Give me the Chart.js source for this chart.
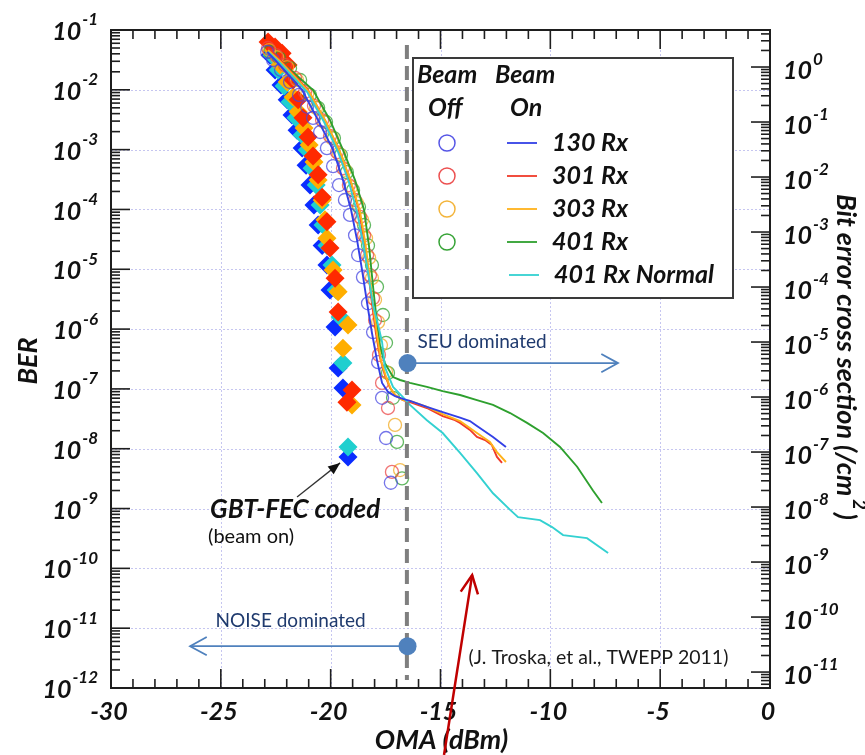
<!DOCTYPE html>
<html>
<head>
<meta charset="utf-8">
<script src="https://cdn.jsdelivr.net/npm/chart.js@4.4.0/dist/chart.umd.min.js"></script>
<style>
  html, body { margin: 0; padding: 0; background: #fff; }
  #wrap { width: 865px; height: 755px; position: relative; }
</style>
</head>
<body>
<div id="wrap"><canvas id="berChart"></canvas></div>
<script>
// Axis ticks
const omaTicks = [-30, -25, -20, -15, -10, -5, 0];
const berExp = [-1, -2, -3, -4, -5, -6, -7, -8, -9, -10, -11, -12];
const sigmaExp = [0, -1, -2, -3, -4, -5, -6, -7, -8, -9, -10, -11];

// Beam on traces (OMA dBm / BER)
const on130X = [-22.89, -22.53, -21.30, -20.57, -19.89, -19.44, -19.07, -18.80, -18.57, -18.34, -18.12, -17.89, -17.66, -17.39, -17.07, -16.71, -16.39, -15.62, -14.90, -14.11, -13.66, -13.34, -12.61, -12.02];
const on130Y = [4.3e-2, 3.15e-2, 9.9e-3, 3.1e-3, 9.9e-4, 3.1e-4, 9.8e-5, 3.1e-5, 9.7e-6, 2.7e-6, 8.6e-7, 3.0e-7, 1.26e-7, 8.9e-8, 7.6e-8, 6.8e-8, 6.3e-8, 5.0e-8, 4.1e-8, 3.3e-8, 2.9e-8, 2.4e-8, 1.57e-8, 1.07e-8];
const on301X = [-22.85, -22.30, -21.03, -20.26, -19.62, -19.12, -18.71, -18.48, -18.30, -18.12, -17.94, -17.75, -17.53, -17.30, -17.07, -16.71, -16.39, -15.62, -14.90, -14.34, -14.11, -13.66, -13.34, -12.97, -12.66, -12.43, -12.20];
const on301Y = [5.0e-2, 3.15e-2, 9.9e-3, 3.1e-3, 9.9e-4, 3.1e-4, 9.8e-5, 3.1e-5, 9.7e-6, 2.7e-6, 8.6e-7, 3.3e-7, 1.7e-7, 1.04e-7, 7.9e-8, 6.5e-8, 6.0e-8, 4.8e-8, 3.5e-8, 3.0e-8, 2.7e-8, 2.06e-8, 1.57e-8, 1.4e-8, 1.15e-8, 7.3e-9, 5.8e-9];
const on303X = [-22.85, -22.26, -20.98, -20.21, -19.57, -19.07, -18.66, -18.43, -18.25, -18.07, -17.89, -17.71, -17.48, -17.26, -17.02, -16.71, -16.39, -15.62, -14.90, -14.11, -13.34, -12.75, -12.43, -12.02];
const on303Y = [4.6e-2, 2.9e-2, 9.2e-3, 2.9e-3, 9.1e-4, 2.88e-4, 9.1e-5, 2.86e-5, 9.0e-6, 2.5e-6, 8.0e-7, 3.0e-7, 1.58e-7, 1.0e-7, 7.6e-8, 6.5e-8, 6.3e-8, 5.0e-8, 3.8e-8, 2.9e-8, 1.83e-8, 1.3e-8, 8.8e-9, 6.0e-9];
const on401X = [-22.80, -22.08, -20.80, -20.03, -19.44, -18.89, -18.48, -18.25, -18.07, -17.89, -17.75, -17.53, -17.16, -16.84, -16.39, -15.62, -14.90, -14.11, -13.34, -12.61, -11.83, -11.06, -10.33, -9.56, -8.78, -8.06, -7.65];
const on401Y = [4.6e-2, 2.6e-2, 9.9e-3, 3.1e-3, 9.9e-4, 3.1e-4, 9.8e-5, 2.36e-5, 5.1e-6, 1.26e-6, 5.0e-7, 2.7e-7, 1.58e-7, 1.41e-7, 1.26e-7, 1.08e-7, 9.2e-8, 7.9e-8, 6.5e-8, 5.4e-8, 3.95e-8, 2.7e-8, 1.83e-8, 1.07e-8, 5.0e-9, 2.0e-9, 1.24e-9];
const normX = [-22.85, -22.30, -21.07, -20.30, -19.66, -19.17, -18.80, -18.53, -18.30, -18.07, -17.84, -17.66, -17.53, -17.16, -16.71, -16.39, -15.62, -14.90, -14.11, -13.34, -12.61, -11.83, -11.47, -10.47, -9.92, -9.42, -8.33, -7.37];
const normY = [4.3e-2, 2.8e-2, 9.2e-3, 2.9e-3, 9.1e-4, 2.88e-4, 9.1e-5, 2.86e-5, 9.0e-6, 2.5e-6, 1.17e-6, 6.1e-7, 2.3e-7, 1.08e-7, 7.3e-8, 5.4e-8, 3.0e-8, 1.83e-8, 8.5e-9, 3.9e-9, 1.8e-9, 9.5e-10, 7.2e-10, 6.4e-10, 4.9e-10, 3.6e-10, 3.2e-10, 1.8e-10];

// Beam off measurements (open circles)
const off130X = [-22.89, -22.62, -22.26, -21.85, -21.44, -21.07, -20.80, -20.48, -20.17, -19.89, -19.62, -19.35, -19.12, -18.89, -18.75, -18.53, -18.30, -18.07, -17.84, -17.66, -17.48, -17.26];
const off130Y = [4.3e-2, 3.15e-2, 2.15e-2, 1.35e-2, 8.2e-3, 5.2e-3, 3.4e-3, 1.97e-3, 1.06e-3, 5.3e-4, 2.56e-4, 1.44e-4, 8.1e-5, 3.7e-5, 1.73e-5, 7.4e-6, 2.7e-6, 8.9e-7, 2.8e-7, 7.1e-8, 1.51e-8, 2.7e-9];
const off301X = [-22.85, -22.49, -22.08, -21.62, -21.17, -20.76, -20.39, -20.03, -19.71, -19.44, -19.17, -18.89, -18.66, -18.48, -18.34, -18.21, -18.07, -17.98, -17.80, -17.66, -17.39, -17.21];
const off301Y = [5.0e-2, 3.8e-2, 2.6e-2, 1.58e-2, 9.2e-3, 5.4e-3, 3.1e-3, 1.69e-3, 9.1e-4, 4.9e-4, 2.56e-4, 1.44e-4, 7.5e-5, 3.7e-5, 1.73e-5, 8.0e-6, 3.3e-6, 1.42e-6, 3.7e-7, 1.26e-7, 4.8e-8, 4.1e-9];
const off303X = [-22.80, -22.44, -21.98, -21.53, -21.07, -20.66, -20.30, -19.94, -19.62, -19.35, -19.07, -18.80, -18.57, -18.39, -18.25, -18.12, -17.98, -17.84, -17.71, -17.48, -17.07, -16.84];
const off303Y = [4.6e-2, 3.5e-2, 2.4e-2, 1.46e-2, 8.5e-3, 5.0e-3, 2.9e-3, 1.56e-3, 8.5e-4, 4.6e-4, 2.37e-4, 1.28e-4, 6.7e-5, 3.3e-5, 1.55e-5, 7.1e-6, 3.1e-6, 1.31e-6, 5.4e-7, 1.92e-7, 2.5e-8, 4.4e-9];
const off401X = [-22.76, -22.35, -21.85, -21.39, -20.94, -20.57, -20.21, -19.85, -19.53, -19.26, -18.98, -18.71, -18.48, -18.30, -18.12, -17.89, -17.62, -17.48, -17.39, -17.16, -16.98, -16.75];
const off401Y = [4.3e-2, 3.4e-2, 2.3e-2, 1.46e-2, 8.2e-3, 5.0e-3, 2.9e-3, 1.56e-3, 8.1e-4, 4.2e-4, 2.1e-4, 1.1e-4, 5.5e-5, 2.5e-5, 1.18e-5, 5.1e-6, 1.72e-6, 5.9e-7, 1.85e-7, 7.1e-8, 1.3e-8, 3.2e-9];

// GBT-FEC coded, beam on (filled diamonds)
const fecBlueX = [-22.76, -22.53, -22.26, -21.98, -21.76, -21.53, -21.30, -21.12, -20.94, -20.76, -20.57, -20.39, -20.17, -20.03, -19.80, -19.66, -19.44, -19.21];
const fecBlueY = [3.8e-2, 2.15e-2, 1.2e-2, 6.8e-3, 3.8e-3, 2.1e-3, 1.06e-3, 5.5e-4, 2.56e-4, 1.19e-4, 5.5e-5, 2.5e-5, 1.18e-5, 4.5e-6, 1.08e-6, 2.24e-7, 1.04e-7, 7.3e-9];
const fecCyanX = [-22.67, -22.39, -22.12, -21.85, -21.58, -21.30, -21.07, -20.85, -20.66, -20.48, -20.35, -20.17, -19.94, -19.75, -19.57, -19.44, -19.21];
const fecCyanY = [3.8e-2, 2.15e-2, 1.16e-2, 6.25e-3, 3.4e-3, 1.76e-3, 9.9e-4, 4.9e-4, 2.56e-4, 1.19e-4, 5.5e-5, 2.5e-5, 1.18e-5, 4.5e-6, 1.59e-6, 2.7e-7, 1.07e-8];
const fecOrangeX = [-22.62, -22.30, -21.98, -21.71, -21.48, -21.21, -20.98, -20.76, -20.57, -20.39, -20.26, -20.17, -19.89, -19.66, -19.21, -19.44, -19.03];
const fecOrangeY = [4.6e-2, 2.6e-2, 1.35e-2, 7.6e-3, 4.3e-3, 2.3e-3, 1.2e-3, 6.2e-4, 3.1e-4, 1.44e-4, 6.7e-5, 3.3e-5, 9.7e-6, 4.2e-6, 1.17e-6, 4.8e-7, 5.4e-8];
const fecRedX = [-22.85, -22.53, -22.21, -21.94, -21.71, -21.48, -21.26, -21.03, -20.80, -20.57, -20.39, -20.17, -20.03, -19.80, -19.66, -19.03, -19.26];
const fecRedY = [6.3e-2, 5.2e-2, 4.1e-2, 2.6e-2, 1.46e-2, 6.8e-3, 3.4e-3, 1.63e-3, 7.8e-4, 3.8e-4, 1.6e-4, 6.2e-5, 2.27e-5, 7.1e-6, 1.93e-6, 9.6e-8, 6.0e-8];

// Threshold marker and annotation anchors (OMA dBm, BER)
const thresholdX = [-16.53, -16.53];
const thresholdY = [5.6e-2, 1.36e-12];
const seuAnchor = [-16.5, 2.7e-7, -6.92];
const noiseAnchor = [-16.5, 5.0e-12, -26.4];
const fecArrow = [-21.53, 1.56e-9, -19.57, 5.8e-9];
const redArrow = [-14.84, 7.6e-14, -13.56, 7.7e-11];

const legendRows = [
  { name: '130 Rx', ring: '#5656e6', line: '#3340e6' },
  { name: '301 Rx', ring: '#ec5050', line: '#f03a2a' },
  { name: '303 Rx', ring: '#f3b43a', line: '#ffb21a' },
  { name: '401 Rx', ring: '#36a336', line: '#2ea02e' },
  { name: '401 Rx Normal', ring: null, line: '#33d1d1' }
];

const BOLD = 'italic bold {s}px Lato, "Open Sans", sans-serif';
const PLAIN = '{s}px Lato, "Open Sans", sans-serif';
const f = (tpl, s) => tpl.replace('{s}', s);

function pts(xs, ys) {
  return xs.map((v, i) => ({ x: v, y: ys[i] }));
}
function traceSet(label, xs, ys, color, order) {
  return { label, data: pts(xs, ys), showLine: true, borderColor: color, borderWidth: 1.9,
    pointRadius: 0, tension: 0, order };
}
function ringSet(label, xs, ys, color, order) {
  return { label, data: pts(xs, ys), showLine: false, pointStyle: 'circle', pointRadius: 6.5,
    borderColor: color, backgroundColor: 'rgba(0,0,0,0)', pointBorderWidth: 1.3, order };
}
function diamondSet(label, xs, ys, color, order) {
  return { label, data: pts(xs, ys), showLine: false, pointStyle: 'rectRot', pointRadius: 9.5,
    backgroundColor: color, borderColor: color, pointBorderWidth: 0, order };
}

function drawPow(ctx, exp, x, y, align) {
  const base = '10', sup = String(exp);
  ctx.font = f(BOLD, 25);
  const wb = ctx.measureText(base).width;
  ctx.font = f(BOLD, 17);
  const ws = ctx.measureText(sup).width;
  const x0 = align === 'right' ? x - wb - ws - 1 : x;
  ctx.textAlign = 'left';
  ctx.textBaseline = 'middle';
  ctx.font = f(BOLD, 25);
  ctx.fillText(base, x0, y);
  ctx.font = f(BOLD, 17);
  ctx.fillText(sup, x0 + wb + 1, y - 12);
}

function arrowHead(ctx, x0, y0, x1, y1, len, spread, filled) {
  const ang = Math.atan2(y1 - y0, x1 - x0);
  const a1 = ang + Math.PI - spread, a2 = ang + Math.PI + spread;
  ctx.beginPath();
  ctx.moveTo(x1 + Math.cos(a1) * len, y1 + Math.sin(a1) * len);
  ctx.lineTo(x1, y1);
  ctx.lineTo(x1 + Math.cos(a2) * len, y1 + Math.sin(a2) * len);
  if (filled) { ctx.closePath(); ctx.fill(); } else { ctx.stroke(); }
}

// frame, ticks, labels, notes and legend
const berAxes = {
  id: 'berAxes',
  beforeDatasetsDraw(chart) {
    const { ctx, chartArea: a, scales: { x, y } } = chart;
    ctx.save();
    ctx.strokeStyle = '#c6c6f0';
    ctx.lineWidth = 1;
    ctx.setLineDash([2, 2]);
    omaTicks.slice(1, -1).forEach(v => {
      const px = Math.round(x.getPixelForValue(v)) + 0.5;
      ctx.beginPath(); ctx.moveTo(px, a.top); ctx.lineTo(px, a.bottom); ctx.stroke();
    });
    berExp.slice(1, -1).forEach(e => {
      const py = Math.round(y.getPixelForValue(Number('1e' + e))) + 0.5;
      ctx.beginPath(); ctx.moveTo(a.left, py); ctx.lineTo(a.right, py); ctx.stroke();
    });
    ctx.restore();
  },
  afterDatasetsDraw(chart) {
    const { ctx, chartArea: a, scales: { x, y, y2 } } = chart;
    ctx.save();
    ctx.strokeStyle = '#1e1e1e';
    ctx.fillStyle = '#111';
    ctx.lineWidth = 2;
    ctx.strokeRect(a.left, a.top, a.right - a.left, a.bottom - a.top);

    // OMA ticks, top and bottom
    ctx.lineWidth = 1.6;
    for (let v = -29; v <= -1; v++) {
      const px = x.getPixelForValue(v);
      const len = v % 5 === 0 ? 19 : 9;
      ctx.beginPath();
      ctx.moveTo(px, a.bottom); ctx.lineTo(px, a.bottom - len);
      ctx.moveTo(px, a.top); ctx.lineTo(px, a.top + len);
      ctx.stroke();
    }
    // log ticks, left and right
    const logTicks = (scale, side) => {
      for (let e = -13; e <= 1; e++) {
        for (let m = 1; m <= 9; m++) {
          const v = m * Number('1e' + e);
          if (v < scale.min || v > scale.max) continue;
          const py = scale.getPixelForValue(v);
          const len = m === 1 ? 19 : 9;
          const x0 = side === 'left' ? a.left : a.right;
          const dir = side === 'left' ? 1 : -1;
          ctx.beginPath(); ctx.moveTo(x0, py); ctx.lineTo(x0 + dir * len, py); ctx.stroke();
        }
      }
    };
    logTicks(y, 'left');
    logTicks(y2, 'right');

    // tick labels
    berExp.forEach(e => drawPow(ctx, e, a.left - 13, y.getPixelForValue(Number('1e' + e)) + 2, 'right'));
    sigmaExp.forEach(e => drawPow(ctx, e, a.right + 13, y2.getPixelForValue(Number('1e' + e)) + 4, 'left'));
    ctx.font = f(BOLD, 25);
    ctx.textAlign = 'center';
    ctx.textBaseline = 'middle';
    omaTicks.forEach(v => ctx.fillText(String(v), x.getPixelForValue(v) - 2, a.bottom + 24));

    // axis titles
    ctx.font = f(BOLD, 27);
    ctx.fillText('OMA (dBm)', (a.left + a.right) / 2 + 1, a.bottom + 52);
    ctx.save();
    ctx.translate(28, (a.top + a.bottom) / 2 + 2);
    ctx.rotate(-Math.PI / 2);
    ctx.fillText('BER', 0, 0);
    ctx.restore();
    ctx.save();
    ctx.translate(846, (a.top + a.bottom) / 2 - 2);
    ctx.rotate(Math.PI / 2);
    const t1 = 'Bit error cross section (/cm';
    const w1 = ctx.measureText(t1).width;
    const w3 = ctx.measureText(')').width;
    ctx.font = f(BOLD, 18);
    const w2 = ctx.measureText('2').width + 6;
    const start = -(w1 + w2 + w3) / 2;
    ctx.textAlign = 'left';
    ctx.font = f(BOLD, 27);
    ctx.fillText(t1, start, 0);
    ctx.fillText(')', start + w1 + w2, 0);
    ctx.font = f(BOLD, 18);
    ctx.fillText('2', start + w1 + 3, -13);
    ctx.restore();

    // SEU / NOISE regions
    const blue = '#4f81bd';
    const drawRegion = (anchor, text, tx, ty) => {
      const px = x.getPixelForValue(anchor[0]);
      const py = y.getPixelForValue(anchor[1]);
      const ex = x.getPixelForValue(anchor[2]);
      ctx.strokeStyle = blue;
      ctx.fillStyle = blue;
      ctx.lineWidth = 1.8;
      ctx.beginPath(); ctx.moveTo(px, py); ctx.lineTo(ex, py); ctx.stroke();
      arrowHead(ctx, px, py, ex, py, 19, 0.5, false);
      ctx.beginPath(); ctx.arc(px, py, 9, 0, Math.PI * 2); ctx.fill();
      ctx.fillStyle = '#1f3a6e';
      ctx.font = f(PLAIN, 19);
      ctx.textAlign = 'left';
      ctx.textBaseline = 'alphabetic';
      ctx.fillText(text, px + tx, py + ty);
    };
    drawRegion(seuAnchor, 'SEU dominated', 10, -15);
    drawRegion(noiseAnchor, 'NOISE dominated', -192, -19);

    const nx = x.getPixelForValue(noiseAnchor[0]);
    const ny = y.getPixelForValue(noiseAnchor[1]);
    ctx.fillStyle = '#1a1a1a';
    ctx.font = f(PLAIN, 19.5);
    ctx.fillText('(J. Troska, et al., TWEPP 2011)', nx + 61, ny + 18);

    // FEC label and pointer
    const ax0 = x.getPixelForValue(fecArrow[0]), ay0 = y.getPixelForValue(fecArrow[1]);
    const ax1 = x.getPixelForValue(fecArrow[2]), ay1 = y.getPixelForValue(fecArrow[3]);
    ctx.strokeStyle = '#333';
    ctx.fillStyle = '#111';
    ctx.lineWidth = 1.3;
    ctx.beginPath(); ctx.moveTo(ax0, ay0); ctx.lineTo(ax1, ay1); ctx.stroke();
    arrowHead(ctx, ax0, ay0, ax1, ay1, 13, 0.38, true);
    ctx.font = f(BOLD, 26);
    ctx.fillText('GBT-FEC coded', ax0 - 87, ay0 + 21);
    ctx.font = f(PLAIN, 20);
    ctx.fillText('(beam on)', ax0 - 89, ay0 + 46);

    // red pointer from below the axis
    const rx0 = x.getPixelForValue(redArrow[0]), ry0 = y.getPixelForValue(redArrow[1]);
    const rx1 = x.getPixelForValue(redArrow[2]), ry1 = y.getPixelForValue(redArrow[3]);
    ctx.strokeStyle = '#c00000';
    ctx.lineWidth = 2.5;
    ctx.beginPath(); ctx.moveTo(rx0, ry0); ctx.lineTo(rx1, ry1); ctx.stroke();
    arrowHead(ctx, rx0, ry0, rx1, ry1, 20, 0.45, false);

    // legend box
    const lx = a.left + 302, ly = a.top + 28;
    ctx.fillStyle = '#fff';
    ctx.fillRect(lx, ly, 320, 240);
    ctx.strokeStyle = '#3a3a3a';
    ctx.lineWidth = 2;
    ctx.strokeRect(lx, ly, 320, 240);
    ctx.fillStyle = '#111';
    ctx.font = f(BOLD, 25);
    ctx.textAlign = 'left';
    ctx.textBaseline = 'alphabetic';
    ctx.fillText('Beam', lx + 4, ly + 25);
    ctx.fillText('Beam', lx + 82, ly + 25);
    ctx.fillText('Off', lx + 15, ly + 58);
    ctx.fillText('On', lx + 97, ly + 58);
    legendRows.forEach((r, i) => {
      const cy = ly + 85 + i * 33;
      if (r.ring) {
        ctx.strokeStyle = r.ring;
        ctx.lineWidth = 1.5;
        ctx.beginPath(); ctx.arc(lx + 34, cy, 8, 0, Math.PI * 2); ctx.stroke();
      }
      ctx.strokeStyle = r.line;
      ctx.lineWidth = 1.8;
      const off = i === 4 ? 2 : 0;
      ctx.beginPath(); ctx.moveTo(lx + 94 + off, cy); ctx.lineTo(lx + 124 + off, cy); ctx.stroke();
      ctx.fillStyle = '#111';
      ctx.font = f(BOLD, 25);
      ctx.fillText(r.name, lx + 139 + off, cy + 8);
    });
    ctx.restore();
  }
};

new Chart(document.getElementById('berChart'), {
  type: 'scatter',
  data: {
    datasets: [
      { label: 'threshold', data: pts(thresholdX, thresholdY), showLine: true, borderColor: '#7f7f7f',
        borderWidth: 4, borderDash: [14, 7], pointRadius: 0, order: 0 },
      traceSet('130 Rx', on130X, on130Y, '#3340e6', 1),
      traceSet('401 Rx Normal', normX, normY, '#33d1d1', 2),
      traceSet('303 Rx', on303X, on303Y, '#ffb21a', 3),
      traceSet('301 Rx', on301X, on301Y, '#f03a2a', 4),
      traceSet('401 Rx', on401X, on401Y, '#2ea02e', 5),
      ringSet('130 Rx off', off130X, off130Y, 'rgba(70,70,225,0.75)', 10),
      ringSet('301 Rx off', off301X, off301Y, 'rgba(235,70,70,0.75)', 11),
      ringSet('303 Rx off', off303X, off303Y, 'rgba(243,175,45,0.8)', 12),
      ringSet('401 Rx off', off401X, off401Y, 'rgba(45,160,45,0.75)', 13),
      diamondSet('FEC 301', fecRedX, fecRedY, '#ff2a00', 20),
      diamondSet('FEC 303', fecOrangeX, fecOrangeY, '#ffae00', 21),
      diamondSet('FEC 401', fecCyanX, fecCyanY, '#1fcfcf', 22),
      diamondSet('FEC 130', fecBlueX, fecBlueY, '#0a2cff', 23)
    ]
  },
  options: {
    responsive: true,
    maintainAspectRatio: false,
    animation: false,
    events: [],
    layout: { padding: { left: 111, right: 95, top: 30, bottom: 67 } },
    plugins: { legend: { display: false }, tooltip: { enabled: false } },
    scales: {
      x: { type: 'linear', min: -30, max: 0, display: false },
      y: { type: 'logarithmic', min: 1e-12, max: 1e-1, display: false },
      y2: { type: 'logarithmic', min: 5.13e-12, max: 4.71, display: false, position: 'right' }
    }
  },
  plugins: [berAxes]
});
</script>
</body>
</html>
